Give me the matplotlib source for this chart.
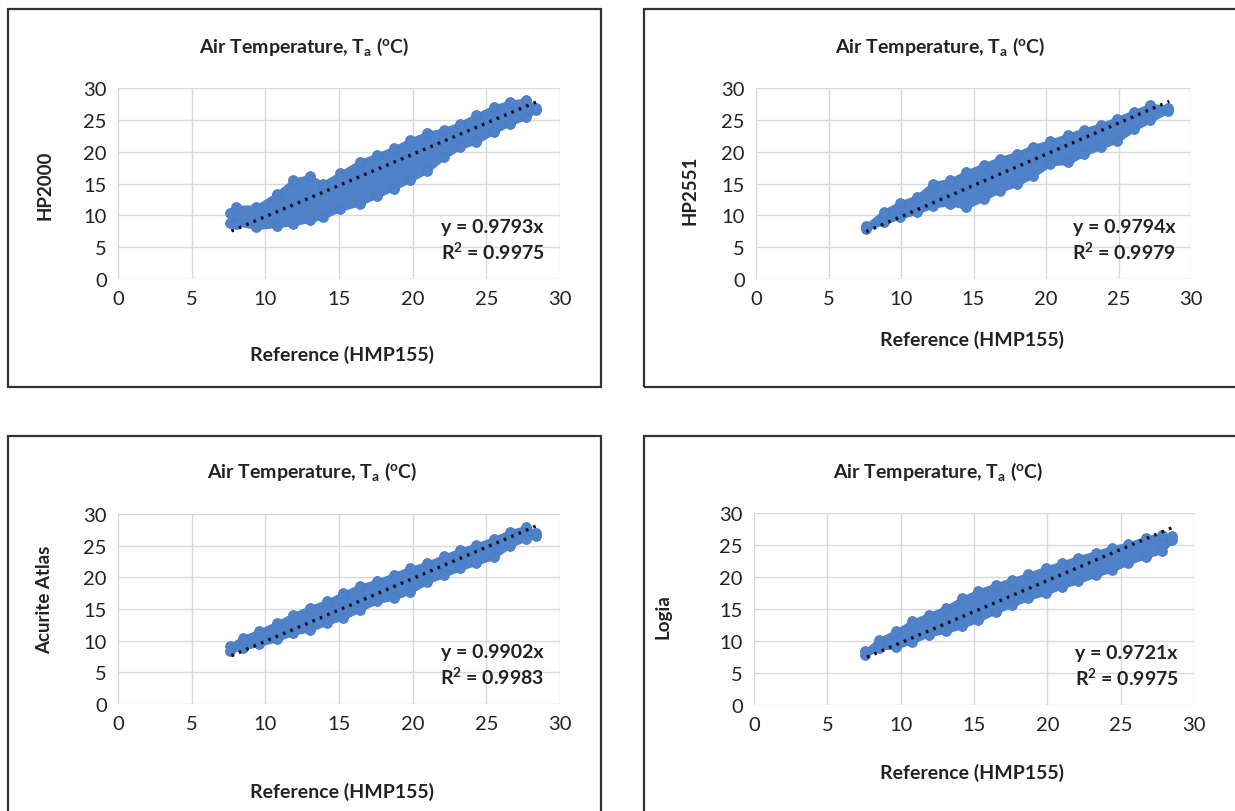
import matplotlib
matplotlib.use("Agg")
import matplotlib.pyplot as plt
from matplotlib.patches import Rectangle
import numpy as np

plt.rcParams['font.family'] = ['Lato', 'DejaVu Sans']
plt.rcParams['mathtext.default'] = 'regular'

W, H = 1235, 812

# --- data (band of scatter points: lower / upper edge of marker centres) ---
sensors = ["HP2000", "HP2551", "Acurite Atlas", "Logia"]
slopes = ["0.9793", "0.9794", "0.9902", "0.9721"]
r2 = ["0.9975", "0.9979", "0.9983", "0.9975"]
trend_x = [(7.7, 28.4), (7.6, 28.5), (7.7, 28.4), (7.7, 28.5)]

hp2000_x = [7.6, 8.0, 9.4, 10.8, 11.9, 13.0, 13.9, 15.1, 16.4, 17.6, 18.7, 19.8, 21.0, 22.1, 23.2, 24.3, 25.5, 26.6, 27.7, 28.4]
hp2000_hi = [10.3, 11.3, 11.3, 13.4, 15.5, 16.1, 15.0, 16.6, 18.4, 19.5, 20.5, 21.8, 22.9, 23.4, 24.4, 25.7, 27.0, 27.8, 28.1, 26.9]
hp2000_lo = [8.8, 8.7, 8.1, 8.4, 8.7, 9.2, 9.7, 11.0, 11.8, 13.1, 14.2, 15.5, 17.0, 19.1, 20.7, 21.5, 23.1, 24.4, 25.4, 26.6]

hp2551_x = [7.6, 8.8, 9.9, 11.1, 12.2, 13.4, 14.5, 15.7, 16.8, 18.0, 19.1, 20.3, 21.5, 22.6, 23.8, 24.9, 26.1, 27.2, 28.4]
hp2551_hi = [8.3, 10.6, 11.9, 12.9, 15.0, 15.5, 16.8, 17.9, 18.9, 19.7, 20.8, 21.6, 22.6, 23.4, 24.2, 25.2, 26.3, 27.3, 26.9]
hp2551_lo = [7.9, 8.9, 9.7, 10.5, 11.5, 11.8, 11.3, 12.6, 13.9, 14.9, 16.2, 18.1, 18.3, 19.6, 20.7, 21.7, 23.6, 24.9, 26.4]

atlas_x = [7.6, 8.5, 9.6, 10.8, 11.9, 13.0, 14.2, 15.3, 16.4, 17.6, 18.7, 19.8, 21.0, 22.1, 23.2, 24.3, 25.5, 26.6, 27.7, 28.4]
atlas_hi = [9.2, 10.5, 11.5, 12.8, 14.1, 15.2, 16.2, 17.5, 18.6, 19.4, 20.4, 21.4, 22.2, 23.3, 24.3, 25.1, 26.1, 27.2, 27.9, 27.0]
atlas_lo = [8.4, 8.9, 9.4, 10.2, 11.2, 11.7, 12.8, 13.6, 14.9, 16.2, 16.7, 17.7, 19.3, 20.3, 21.4, 22.2, 23.2, 25.0, 26.1, 26.6]

logia_x = [7.6, 8.5, 9.7, 10.8, 11.9, 13.1, 14.2, 15.3, 16.5, 17.6, 18.7, 19.9, 21.0, 22.1, 23.3, 24.4, 25.5, 26.7, 27.8, 28.5]
logia_hi = [8.4, 10.2, 11.5, 13.1, 14.1, 15.2, 16.7, 17.8, 18.8, 19.6, 20.4, 21.4, 22.2, 23.0, 23.8, 24.6, 25.1, 26.1, 26.6, 26.4]
logia_lo = [7.8, 8.9, 9.1, 9.9, 11.0, 11.5, 12.3, 13.3, 14.6, 15.6, 16.7, 17.5, 18.5, 19.3, 20.3, 21.1, 22.2, 23.2, 24.0, 25.8]

bands = [(hp2000_x, hp2000_lo, hp2000_hi), (hp2551_x, hp2551_lo, hp2551_hi),
         (atlas_x, atlas_lo, atlas_hi), (logia_x, logia_lo, logia_hi)]

# --- layout in pixels ---
frames = [(8, 10, 601, 388), (644, 10, 1240, 388), (8, 437, 601, 820), (644, 437, 1240, 820)]
axboxes = [(118, 89, 560, 280), (756, 89, 1191, 280), (118, 515, 560, 705), (754, 514, 1194, 706)]
titles_xy = [(304, 47), (940, 47), (312, 472), (938, 472)]
xlab_xy = [(342, 355), (972, 340), (342, 792), (972, 773)]
ylab_xy = [(45, 185), (690, 190), (45, 600), (663, 617)]

BLUE = '#4F82C8'
EDGE = '#4A7CC2'


def fx(px):
    return px / W


def fy(py):
    return 1 - py / H


fig = plt.figure(figsize=(W / 100, H / 100), dpi=100)

for i in range(4):
    x0, y0, x1, y1 = frames[i]
    fig.add_artist(Rectangle((fx(x0), fy(y1)), fx(x1) - fx(x0), fy(y0) - fy(y1),
                             transform=fig.transFigure, fill=False, ec='#333333', lw=1.6))

    a0, b0, a1, b1 = axboxes[i]
    ax = fig.add_axes([fx(a0), fy(b1), fx(a1) - fx(a0), fy(b0) - fy(b1)])
    ax.set_xlim(0, 30)
    ax.set_ylim(0, 30)
    ax.set_xticks(np.arange(0, 31, 5))
    ax.set_yticks(np.arange(0, 31, 5))
    ax.grid(True, color='#d9d9d9', lw=1.0)
    ax.set_axisbelow(True)
    for s in ax.spines.values():
        s.set_visible(False)
    ax.tick_params(length=0, labelsize=14.5, colors='#222222', pad=8)

    bx, lo, hi = bands[i]
    ax.fill_between(bx, lo, hi, color=BLUE, lw=3, edgecolor=BLUE, joinstyle='round', zorder=2)
    ax.scatter(bx + bx, lo + hi, s=50, color=BLUE, edgecolors=EDGE, linewidths=0.6, zorder=2)

    tx = np.array(trend_x[i])
    ax.plot(tx, float(slopes[i]) * tx, color='#111122', lw=2.4,
            linestyle=(0, (0.8, 1.6)), zorder=3)

    ax.text(0.965, 0.205, "y = %sx\nR$^2$ = %s" % (slopes[i], r2[i]), transform=ax.transAxes,
            ha='right', va='center', fontsize=14, fontweight='bold', color='#222222',
            multialignment='center', linespacing=1.3)

    fig.text(fx(titles_xy[i][0]), fy(titles_xy[i][1]), "Air Temperature, T$_a$ ($^o$C)",
             ha='center', va='center', fontsize=14, fontweight='bold', color='#222222')
    fig.text(fx(xlab_xy[i][0]), fy(xlab_xy[i][1]), "Reference (HMP155)",
             ha='center', va='center', fontsize=14, fontweight='bold', color='#222222')
    fig.text(fx(ylab_xy[i][0]), fy(ylab_xy[i][1]), sensors[i], rotation=90,
             ha='center', va='center', fontsize=13.5, fontweight='bold', color='#222222')

fig.savefig("out.png", dpi=100)
